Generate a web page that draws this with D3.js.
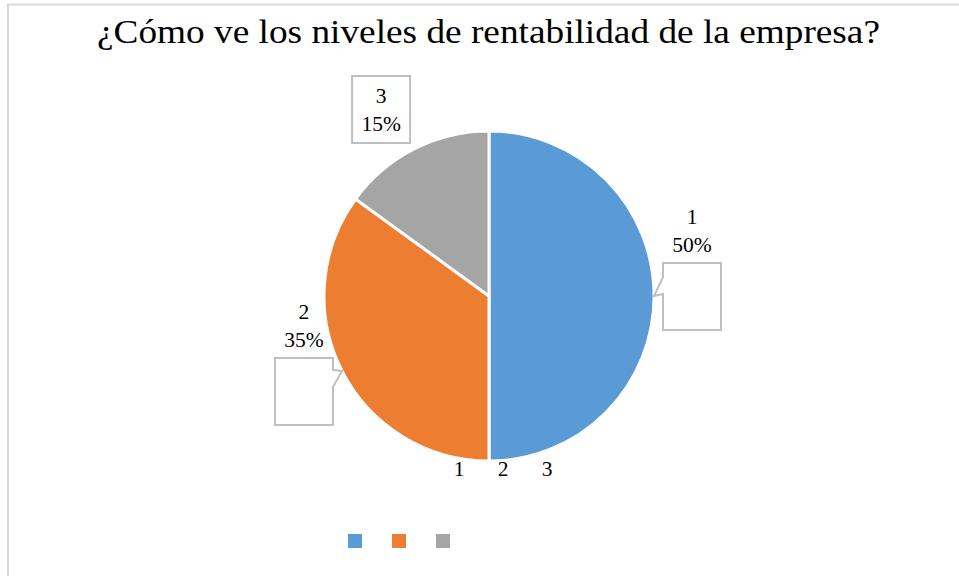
<!DOCTYPE html>
<html><head><meta charset="utf-8">
<script src="https://cdn.jsdelivr.net/npm/d3@7"></script>
<style>body{margin:0;background:#fff}svg{display:block}</style>
</head><body>
<svg id="c" width="959" height="576"></svg>
<script>
const title = "¿Cómo ve los niveles de rentabilidad de la empresa?";
const categories = ["1", "2", "3"];
const values = [50, 35, 15];
const percentLabels = ["50%", "35%", "15%"];
const colors = ["#5B9BD5", "#ED7D31", "#A5A5A5"];

const svg = d3.select("#c");
const font = "'Liberation Serif','Times New Roman',serif";
const cx = 489, cy = 296, R = 165;

svg.append("rect").attr("x", 8).attr("y", 4.5).attr("width", 1000).attr("height", 1000)
  .attr("fill", "#fff").attr("stroke", "#D9D9D9").attr("stroke-width", 2);

svg.append("text").attr("x", 97).attr("y", 43)
  .attr("textLength", 783).attr("lengthAdjust", "spacingAndGlyphs")
  .attr("font-family", font).attr("font-size", 34).attr("fill", "#000").text(title);

const pie = d3.pie().sort(null).value(d => d)(values);
const arc = d3.arc().innerRadius(0).outerRadius(R);
const g = svg.append("g").attr("transform", `translate(${cx},${cy})`);
g.selectAll("path").data(pie).join("path")
  .attr("d", arc).attr("fill", (d, i) => colors[i])
  .attr("stroke", "#fff").attr("stroke-width", 3).attr("stroke-linejoin", "round");

// data label callouts: box offsets relative to slice-edge tip
const boxW = 58, boxH = 67;
const boxOffsets = [[9, -33], [-67, -13], [-62, -73]];
const textInside = [false, false, true];
pie.forEach((d, i) => {
  const a = (d.startAngle + d.endAngle) / 2;
  const tx = cx + R * Math.sin(a), ty = cy - R * Math.cos(a);
  const bx = tx + boxOffsets[i][0], by = ty + boxOffsets[i][1];
  let path;
  if (i === 0) {
    path = `M${bx},${by} H${bx + boxW} V${by + boxH} H${bx} V${by + 31} L${tx},${ty} L${bx},${by + 14} Z`;
  } else if (i === 1) {
    path = `M${bx},${by} H${bx + boxW} V${by + 12} L${tx},${ty} L${bx + boxW},${by + 29} V${by + boxH} H${bx} Z`;
  } else {
    path = `M${bx},${by} H${bx + boxW} V${by + boxH} H${bx} Z`;
  }
  svg.append("path").attr("d", path).attr("fill", "#fff")
    .attr("stroke", "#BFBFBF").attr("stroke-width", 2);
  const tcx = bx + boxW / 2;
  const b1 = textInside[i] ? by + 27 : by - 39;
  const t = svg.append("text").attr("font-family", font).attr("font-size", 21.5)
    .attr("text-anchor", "middle").attr("fill", "#000");
  t.append("tspan").attr("x", tcx).attr("y", b1).text(categories[i]);
  t.append("tspan").attr("x", tcx).attr("y", b1 + 28).text(percentLabels[i]);
});

// legend
const lx = d3.scalePoint().domain(categories).range([348, 436]);
svg.selectAll("rect.leg").data(categories).join("rect").attr("class", "leg")
  .attr("x", d => lx(d)).attr("y", 534).attr("width", 14).attr("height", 14)
  .attr("fill", (d, i) => colors[i]);
svg.selectAll("text.leg").data(categories).join("text").attr("class", "leg")
  .attr("x", d => lx(d) + 111).attr("y", 476).attr("text-anchor", "middle")
  .attr("font-family", font).attr("font-size", 21.5).attr("fill", "#000").text(d => d);
</script>
</body></html>
